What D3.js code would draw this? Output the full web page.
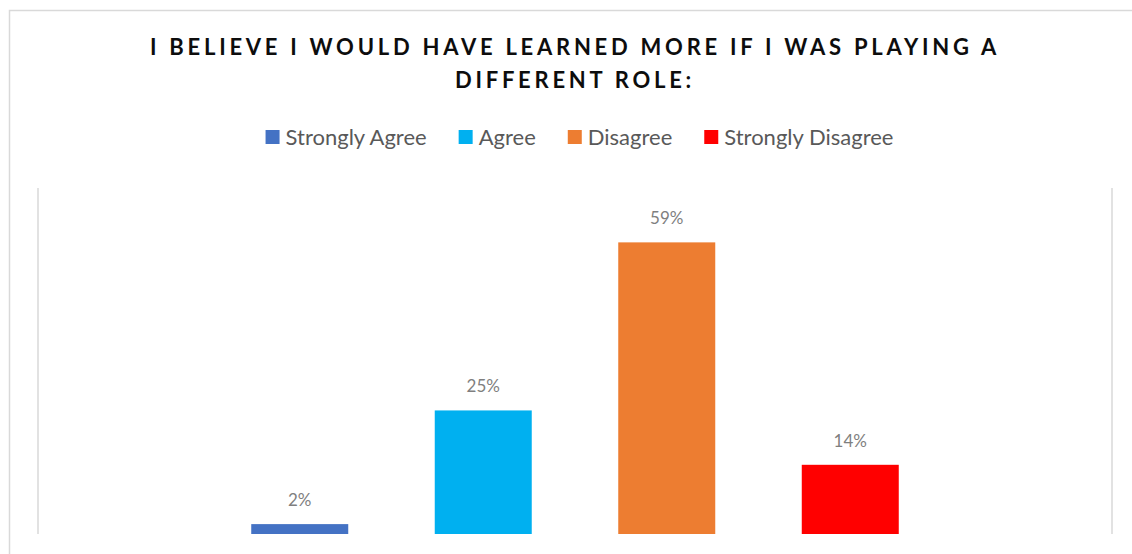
<!DOCTYPE html>
<html>
<head>
<meta charset="utf-8">
<script src="https://cdn.jsdelivr.net/npm/d3@7"></script>
<style>
  html, body { margin: 0; padding: 0; background: #fff; }
  svg { display: block; }
</style>
</head>
<body>
<script>
const categories = ["Strongly Agree", "Agree", "Disagree", "Strongly Disagree"];
const values = [0.02, 0.25, 0.59, 0.14];
const colors = ["#4472C4", "#00B0F0", "#ED7D31", "#FF0000"];
const titleLines = ["I BELIEVE I WOULD HAVE LEARNED MORE IF I WAS PLAYING A", "DIFFERENT ROLE:"];
const yMax = 0.7;

const W = 1132, H = 554;
const svg = d3.select("body").append("svg").attr("width", W).attr("height", H);
const font = "Lato, 'Open Sans', sans-serif";

// chart border
svg.append("rect").attr("x", 9.5).attr("y", 10.5).attr("width", W).attr("height", H)
  .attr("fill", "#fff").attr("stroke", "#d9d9d9").attr("stroke-width", 1.5);

// title
const title = svg.append("text").attr("text-anchor", "middle")
  .attr("font-family", font).attr("font-weight", "bold").attr("font-size", 22)
  .attr("fill", "#0d0d0d");
title.selectAll("tspan").data(titleLines).join("tspan")
  .attr("x", 575).attr("y", (d, i) => 55 + i * 33).text(d => d);
const t0 = title.select("tspan").node().getComputedTextLength();
const ls = (850 - t0) / titleLines[0].length;
title.attr("letter-spacing", ls + "px");

// legend
const legend = svg.append("g");
let lx = 0;
const gap = 32;
const items = legend.selectAll("g").data(categories).join("g");
items.append("rect").attr("width", 14).attr("height", 14).attr("y", -7)
  .attr("fill", (d, i) => colors[i]);
items.append("text").attr("x", 20).attr("y", 7.5)
  .attr("font-family", font).attr("font-size", 22).attr("fill", "#595959").text(d => d);
items.each(function() {
  const g = d3.select(this);
  g.attr("transform", `translate(${lx},0)`);
  lx += 20 + g.select("text").node().getComputedTextLength() + gap;
});
lx -= gap;
legend.attr("transform", `translate(${579.5 - lx / 2},137)`);

// plot area
const x0 = 38, x1 = 1112, yTop = 188, yBase = 534;
const x = d3.scaleBand().domain(categories).range([x0, x1]).paddingInner(0.4714).paddingOuter(1.162);
const y = d3.scaleLinear().domain([0, yMax]).range([yBase, yTop]);

svg.append("g").selectAll("line").data([x0, x1]).join("line")
  .attr("x1", d => d).attr("x2", d => d).attr("y1", yTop).attr("y2", yBase)
  .attr("stroke", "#d9d9d9").attr("stroke-width", 1.5);

svg.append("g").selectAll("rect").data(values).join("rect")
  .attr("x", (d, i) => x(categories[i]))
  .attr("width", x.bandwidth())
  .attr("y", d => y(d))
  .attr("height", d => yBase - y(d))
  .attr("fill", (d, i) => colors[i]);

svg.append("g").selectAll("text").data(values).join("text")
  .attr("x", (d, i) => x(categories[i]) + x.bandwidth() / 2)
  .attr("y", d => y(d) - 18)
  .attr("text-anchor", "middle")
  .attr("font-family", font).attr("font-size", 17).attr("fill", "#7f7f7f")
  .text(d => d3.format(".0%")(d));
</script>
</body>
</html>
